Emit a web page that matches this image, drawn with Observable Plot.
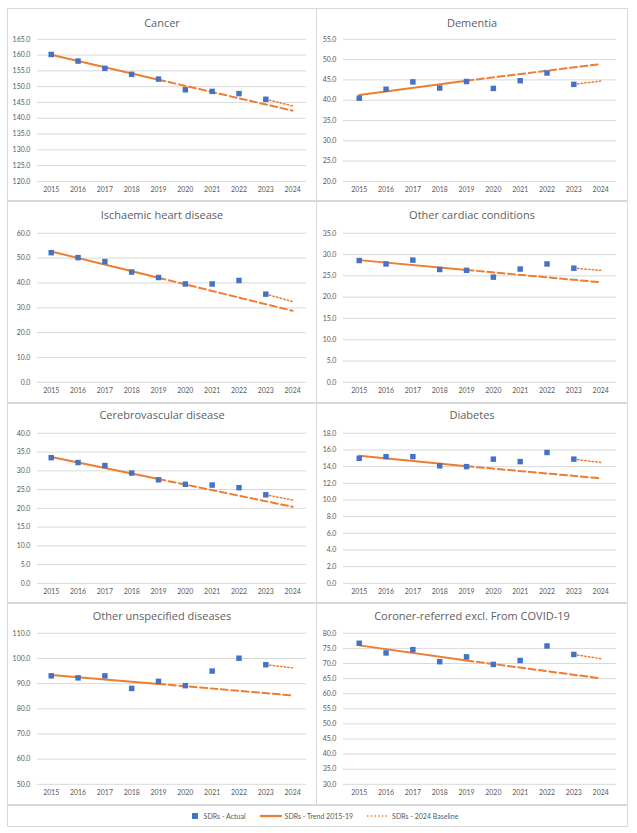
<!DOCTYPE html>
<html>
<head>
<meta charset="utf-8">
<script src="https://cdn.jsdelivr.net/npm/d3@7"></script>
<script src="https://cdn.jsdelivr.net/npm/@observablehq/plot@0.6"></script>
<style>
  html, body { margin: 0; padding: 0; background: #fff; }
  body { width: 637px; height: 833px; position: relative; font-family: Lato, "Open Sans", sans-serif; }
  .panel { position: absolute; box-sizing: border-box; border: 1px solid #d9d9d9; background: #fff; }
  .panel svg { position: absolute; left: -1px; top: -1px; }
  .title { position: absolute; left: 0; right: 0; text-align: center; font-family: "Open Sans", Lato, sans-serif; font-weight: 400; font-size: 11px; line-height: 14px; color: #606060; }
  .legend { position: absolute; box-sizing: border-box; border: 1px solid #d9d9d9; display: flex; align-items: center; justify-content: center; font-size: 7px; color: #595959; padding-left: 12px; }
  .legend .item { display: flex; align-items: center; margin: 0 7px; }
  .legend svg { margin-right: 3px; }
</style>
</head>
<body>
<script>
// ---------- data ----------
const years = [2015, 2016, 2017, 2018, 2019, 2020, 2021, 2022, 2023, 2024];
const actualYears = [2015, 2016, 2017, 2018, 2019, 2020, 2021, 2022, 2023];
const trendYears = [2015, 2019, 2024];
const baselineYears = [2023, 2024];

const causes = [
  "Cancer", "Dementia",
  "Ischaemic heart disease", "Other cardiac conditions",
  "Cerebrovascular disease", "Diabetes",
  "Other unspecified diseases", "Coroner-referred excl. From COVID-19"
];

const actualCancer = [160.2, 158.1, 155.8, 153.9, 152.4, 149.0, 148.5, 147.8, 146.0];
const trendCancer = [160.1, 152.2, 142.4];
const baselineCancer = [146.0, 143.9];
const ticksCancer = [120, 125, 130, 135, 140, 145, 150, 155, 160, 165];

const actualDementia = [40.5, 42.7, 44.5, 43.0, 44.6, 42.9, 44.8, 46.7, 43.9];
const trendDementia = [41.3, 44.8, 48.9];
const baselineDementia = [43.9, 44.7];
const ticksDementia = [20, 25, 30, 35, 40, 45, 50, 55];

const actualIHD = [52.2, 50.2, 48.6, 44.4, 42.2, 39.6, 39.6, 41.0, 35.5];
const trendIHD = [52.7, 42.1, 28.8];
const baselineIHD = [35.5, 32.5];
const ticksIHD = [0, 10, 20, 30, 40, 50, 60];

const actualCardiac = [28.6, 27.8, 28.7, 26.5, 26.3, 24.7, 26.6, 27.8, 26.8];
const trendCardiac = [28.7, 26.4, 23.5];
const baselineCardiac = [26.8, 26.3];
const ticksCardiac = [0, 5, 10, 15, 20, 25, 30, 35];

const actualCerebro = [33.5, 32.2, 31.4, 29.4, 27.6, 26.4, 26.2, 25.5, 23.6];
const trendCerebro = [33.7, 27.8, 20.4];
const baselineCerebro = [23.6, 22.2];
const ticksCerebro = [0, 5, 10, 15, 20, 25, 30, 35, 40];

const actualDiabetes = [15.0, 15.2, 15.2, 14.1, 14.0, 14.9, 14.6, 15.7, 14.9];
const trendDiabetes = [15.3, 14.05, 12.6];
const baselineDiabetes = [14.9, 14.5];
const ticksDiabetes = [0, 2, 4, 6, 8, 10, 12, 14, 16, 18];

const actualOther = [93.1, 92.3, 93.1, 88.1, 90.9, 89.2, 95.0, 100.1, 97.5];
const trendOther = [93.4, 89.9, 85.3];
const baselineOther = [97.5, 96.3];
const ticksOther = [50, 60, 70, 80, 90, 100, 110];

const actualCoroner = [76.7, 73.5, 74.6, 70.6, 72.2, 69.7, 71.0, 75.8, 73.0];
const trendCoroner = [76.0, 71.0, 65.1];
const baselineCoroner = [73.0, 71.6];
const ticksCoroner = [30, 35, 40, 45, 50, 55, 60, 65, 70, 75, 80];

const seriesNames = ["SDRs - Actual", "SDRs - Trend 2015-19", "SDRs - 2024 Baseline"];

const panelData = [
  [actualCancer, trendCancer, baselineCancer, ticksCancer],
  [actualDementia, trendDementia, baselineDementia, ticksDementia],
  [actualIHD, trendIHD, baselineIHD, ticksIHD],
  [actualCardiac, trendCardiac, baselineCardiac, ticksCardiac],
  [actualCerebro, trendCerebro, baselineCerebro, ticksCerebro],
  [actualDiabetes, trendDiabetes, baselineDiabetes, ticksDiabetes],
  [actualOther, trendOther, baselineOther, ticksOther],
  [actualCoroner, trendCoroner, baselineCoroner, ticksCoroner]
];

// ---------- layout ----------
const BLUE = "#4472C4", ORANGE = "#ED7D31", GRID = "#d9d9d9", TEXT = "#595959";
const rows = [
  {top: 8, h: 193, gt: 31, gb: 174, ty: 7},
  {top: 201, h: 202, gt: 32, gb: 182, ty: 6},
  {top: 403, h: 200, gt: 30, gb: 181, ty: 4},
  {top: 603, h: 202, gt: 30, gb: 182, ty: 5}
];
const cols = [
  {left: 7, w: 310, ml: 30, mr: 9},
  {left: 316, w: 312, ml: 27, mr: 10}
];

causes.forEach((name, i) => {
  const r = rows[Math.floor(i / 2)], c = cols[i % 2];
  const [actual, trend, baseline, ticks] = panelData[i];
  const actualT = actualYears.map((y, k) => ({year: y, value: actual[k]}));
  const trendT = trendYears.map((y, k) => ({year: y, value: trend[k]}));
  const baseT = baselineYears.map((y, k) => ({year: y, value: baseline[k]}));

  const panel = document.createElement("div");
  panel.className = "panel";
  Object.assign(panel.style, {left: c.left + "px", top: r.top + "px", width: c.w + "px", height: r.h + "px"});
  const t = document.createElement("div");
  t.className = "title";
  t.style.top = r.ty + "px";
  t.textContent = name;
  panel.appendChild(t);

  const chart = Plot.plot({
    width: c.w, height: r.h,
    marginLeft: c.ml, marginRight: c.mr, marginTop: r.gt, marginBottom: r.h - r.gb,
    style: {fontSize: "7px", fontFamily: "Lato, 'Open Sans', sans-serif", color: TEXT, background: "transparent", overflow: "visible"},
    x: {type: "point", domain: years, padding: 0.5},
    y: {domain: [ticks[0], ticks[ticks.length - 1]]},
    marks: [
      Plot.gridY(ticks, {stroke: GRID, strokeOpacity: 1, strokeWidth: 1}),
      Plot.axisY(ticks, {tickSize: 0, tickPadding: 7, tickFormat: d3.format(".1f"), label: null, fill: TEXT}),
      Plot.axisX(years, {tickSize: 0, tickPadding: 6, tickFormat: d => String(d), label: null, fill: TEXT}),
      Plot.line(trendT.slice(0, 2), {x: "year", y: "value", stroke: ORANGE, strokeWidth: 2}),
      Plot.line(trendT.slice(1), {x: "year", y: "value", stroke: ORANGE, strokeWidth: 2, strokeDasharray: "7,3.5"}),
      Plot.line(baseT, {x: "year", y: "value", stroke: ORANGE, strokeWidth: 1.5, strokeDasharray: "1.5,2.2"}),
      Plot.dot(actualT, {x: "year", y: "value", symbol: "square", r: 3.1, fill: BLUE, stroke: "none"})
    ]
  });
  panel.appendChild(chart);
  document.body.appendChild(panel);
});

// ---------- legend ----------
const legend = document.createElement("div");
legend.className = "legend";
Object.assign(legend.style, {left: "7px", top: "805px", width: "621px", height: "22px"});
const swatches = [
  `<svg width="12" height="8"><rect x="3" y="1" width="6" height="6" fill="${BLUE}"/></svg>`,
  `<svg width="22" height="8"><line x1="0" x2="22" y1="4" y2="4" stroke="${ORANGE}" stroke-width="2.25"/></svg>`,
  `<svg width="22" height="8"><line x1="0" x2="22" y1="4" y2="4" stroke="${ORANGE}" stroke-width="1.5" stroke-dasharray="1.5,2.2"/></svg>`
];
seriesNames.forEach((s, k) => {
  const it = document.createElement("div");
  it.className = "item";
  it.innerHTML = swatches[k] + `<span>${s}</span>`;
  legend.appendChild(it);
});
document.body.appendChild(legend);
</script>
</body>
</html>
